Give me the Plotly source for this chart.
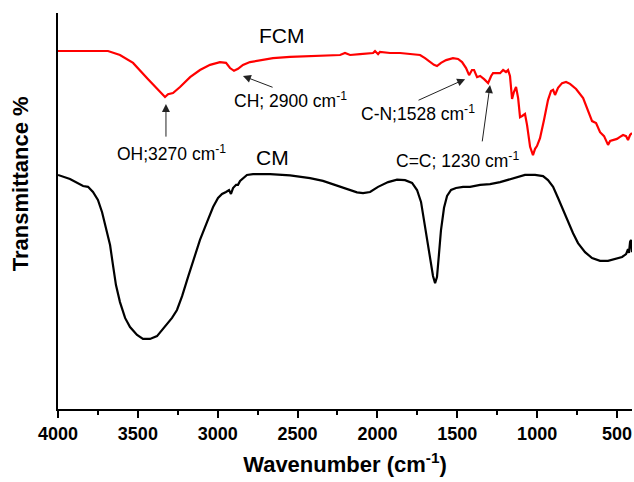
import plotly.graph_objects as go

# FTIR spectra: wavenumber (cm-1) vs transmittance (arbitrary %, offset traces)
fcm_wavenumber = [4000, 3862, 3687, 3612, 3530, 3436, 3342, 3330, 3311, 3280, 3236, 3173, 3111,
                  3048, 2986, 2948, 2923, 2898, 2873, 2842, 2798, 2735, 2654, 2547, 2441, 2328,
                  2234, 2203, 2171, 2109, 2027, 2015, 1996, 1984, 1921, 1858, 1796, 1733, 1702,
                  1671, 1646, 1627, 1602, 1570, 1527, 1495, 1470, 1445, 1426, 1408, 1395, 1376,
                  1357, 1332, 1307, 1288, 1276, 1232, 1213, 1195, 1182, 1170, 1157, 1145, 1132,
                  1119, 1107, 1094, 1076, 1063, 1044, 1026, 1013, 1001, 982, 957, 932, 913, 900,
                  888, 869, 844, 819, 794, 756, 712, 681, 656, 631, 606, 581, 556, 543, 525, 500,
                  481, 462, 443, 431, 418, 406]
fcm_transmittance = [90.4, 90.4, 90.4, 89.4, 87.4, 83.3, 79.3, 78.8, 79.5, 79.8, 81.3, 83.8, 85.6,
                     86.9, 87.6, 87.4, 86.1, 85.4, 85.9, 86.9, 87.6, 88.1, 88.6, 88.9, 89.1, 89.4,
                     89.4, 89.9, 89.4, 89.6, 89.9, 90.4, 89.6, 90.2, 89.9, 89.9, 89.6, 89.4, 88.6,
                     87.6, 86.9, 86.6, 87.4, 88.1, 88.6, 88.4, 87.6, 86.1, 84.3, 85.6, 85.6, 83.8,
                     84.1, 83.3, 82.3, 84.1, 84.8, 84.8, 85.6, 85.1, 85.6, 84.1, 78.3, 80.1, 81.3,
                     78.5, 73.7, 74.0, 74.5, 71.7, 66.2, 64.1, 65.7, 66.4, 68.4, 73.0, 78.0, 80.3,
                     80.6, 79.3, 81.1, 82.3, 82.6, 82.1, 80.8, 78.5, 75.5, 72.7, 72.2, 69.9, 68.9,
                     66.7, 67.7, 67.9, 68.2, 68.7, 69.2, 68.9, 67.9, 69.2, 69.7]

cm_wavenumber = [4000, 3925, 3843, 3812, 3781, 3750, 3724, 3699, 3674, 3656, 3637, 3612, 3580,
                 3549, 3505, 3468, 3424, 3380, 3330, 3286, 3255, 3223, 3186, 3155, 3111, 3067,
                 3029, 2998, 2973, 2948, 2929, 2917, 2904, 2885, 2873, 2860, 2842, 2817, 2779,
                 2672, 2547, 2422, 2341, 2265, 2190, 2128, 2090, 2046, 1996, 1933, 1877, 1827,
                 1783, 1752, 1727, 1708, 1689, 1671, 1652, 1639, 1627, 1615, 1602, 1583, 1564,
                 1539, 1508, 1464, 1420, 1357, 1295, 1232, 1151, 1076, 1013, 963, 932, 900, 869,
                 838, 806, 775, 744, 700, 656, 606, 556, 512, 468, 443, 431, 425, 418, 412, 406]
cm_transmittance = [59.1, 58.1, 56.3, 56.1, 54.8, 52.8, 49.7, 45.7, 41.4, 36.4, 31.3, 27.0, 23.0,
                    20.7, 18.7, 17.7, 17.7, 18.4, 21.0, 23.0, 25.0, 28.5, 33.3, 37.1, 42.7, 47.2,
                    51.0, 53.3, 54.3, 54.8, 55.3, 54.3, 55.8, 56.6, 56.6, 57.6, 58.3, 59.1, 59.3,
                    59.3, 59.0, 58.3, 57.6, 56.6, 55.6, 54.7, 54.5, 54.8, 56.1, 57.3, 57.9, 57.8,
                    57.1, 55.3, 52.3, 47.7, 42.7, 38.1, 33.6, 31.8, 33.3, 38.9, 45.2, 50.8, 53.8,
                    55.3, 55.8, 56.1, 56.1, 56.6, 56.8, 57.3, 58.3, 59.1, 59.1, 58.8, 57.8, 56.1,
                    53.3, 50.3, 47.2, 44.4, 41.9, 39.6, 38.1, 37.4, 37.4, 37.9, 38.4, 39.1, 40.4,
                    39.4, 42.2, 42.7, 39.6]

x_ticks = [4000, 3500, 3000, 2500, 2000, 1500, 1000, 500]

# Band labels: (text, text x, text y, arrow tail x, tail y, head x, head y)
band_labels = [
    ("OH;3270 cm<sup>-1</sup>", 3292, 64.6, 3324, 68.4, 3324, 77.0),
    ("CH; 2900 cm<sup>-1</sup>", 2547, 78.0, 2647, 81.1, 2842, 84.1),
    ("C-N;1528 cm<sup>-1</sup>", 1746, 74.7, 1752, 77.8, 1451, 83.3),
    ("C=C; 1230 cm<sup>-1</sup>", 1501, 62.9, 1345, 67.2, 1295, 81.8),
]
series_labels = [("FCM", 2597, 94.4), ("CM", 2660, 63.6)]

FONT = "Liberation Sans, Arial"

fig = go.Figure()
fig.add_trace(go.Scatter(x=fcm_wavenumber, y=fcm_transmittance, mode="lines",
                         line=dict(color="#ff0000", width=2.2), name="FCM"))
fig.add_trace(go.Scatter(x=cm_wavenumber, y=cm_transmittance, mode="lines",
                         line=dict(color="#000000", width=2.2), name="CM"))

annotations = []
for text, tx, ty, ax, ay, hx, hy in band_labels:
    annotations.append(dict(x=tx, y=ty, xref="x", yref="y", text=text, showarrow=False,
                            font=dict(family=FONT, size=17.5, color="#000")))
    annotations.append(dict(x=hx, y=hy, xref="x", yref="y", ax=ax, ay=ay, axref="x", ayref="y",
                            text="", showarrow=True, arrowhead=2, arrowsize=1.6, arrowwidth=1,
                            arrowcolor="#222", standoff=0, startstandoff=0))
for text, tx, ty in series_labels:
    annotations.append(dict(x=tx, y=ty, xref="x", yref="y", text=text, showarrow=False,
                            font=dict(family=FONT, size=21, color="#000")))

# Y-axis title placed as a rotated label beside the axis
annotations.append(dict(x=-0.066, y=0.568, xref="paper", yref="paper", text="Transmittance %",
                        textangle=-90, showarrow=False, xanchor="center", yanchor="middle",
                        font=dict(family=FONT, size=22, color="black", weight="bold")))

fig.update_layout(
    width=634, height=482,
    margin=dict(l=58, r=2, t=13, b=73),
    paper_bgcolor="white", plot_bgcolor="white",
    showlegend=False,
    annotations=annotations,
    xaxis=dict(
        range=[4000, 406], tickvals=x_ticks, ticktext=[str(v) for v in x_ticks],
        showline=True, linecolor="black", linewidth=2, mirror=False,
        ticks="outside", ticklen=7, tickwidth=2, tickcolor="black",
        minor=dict(dtick=250, tick0=0, ticks="outside", ticklen=4, tickwidth=2, tickcolor="black"),
        showgrid=False, zeroline=False,
        tickfont=dict(family=FONT, size=18, color="black", weight="bold"),
        title=dict(text="Wavenumber (cm<sup>-1</sup>)", standoff=14,
                   font=dict(family=FONT, size=22, color="black", weight="bold")),
    ),
    yaxis=dict(
        range=[0, 100], showline=True, linecolor="black", linewidth=2,
        showticklabels=False, ticks="", showgrid=False, zeroline=False,
    ),
)

fig.write_html("out.html")
